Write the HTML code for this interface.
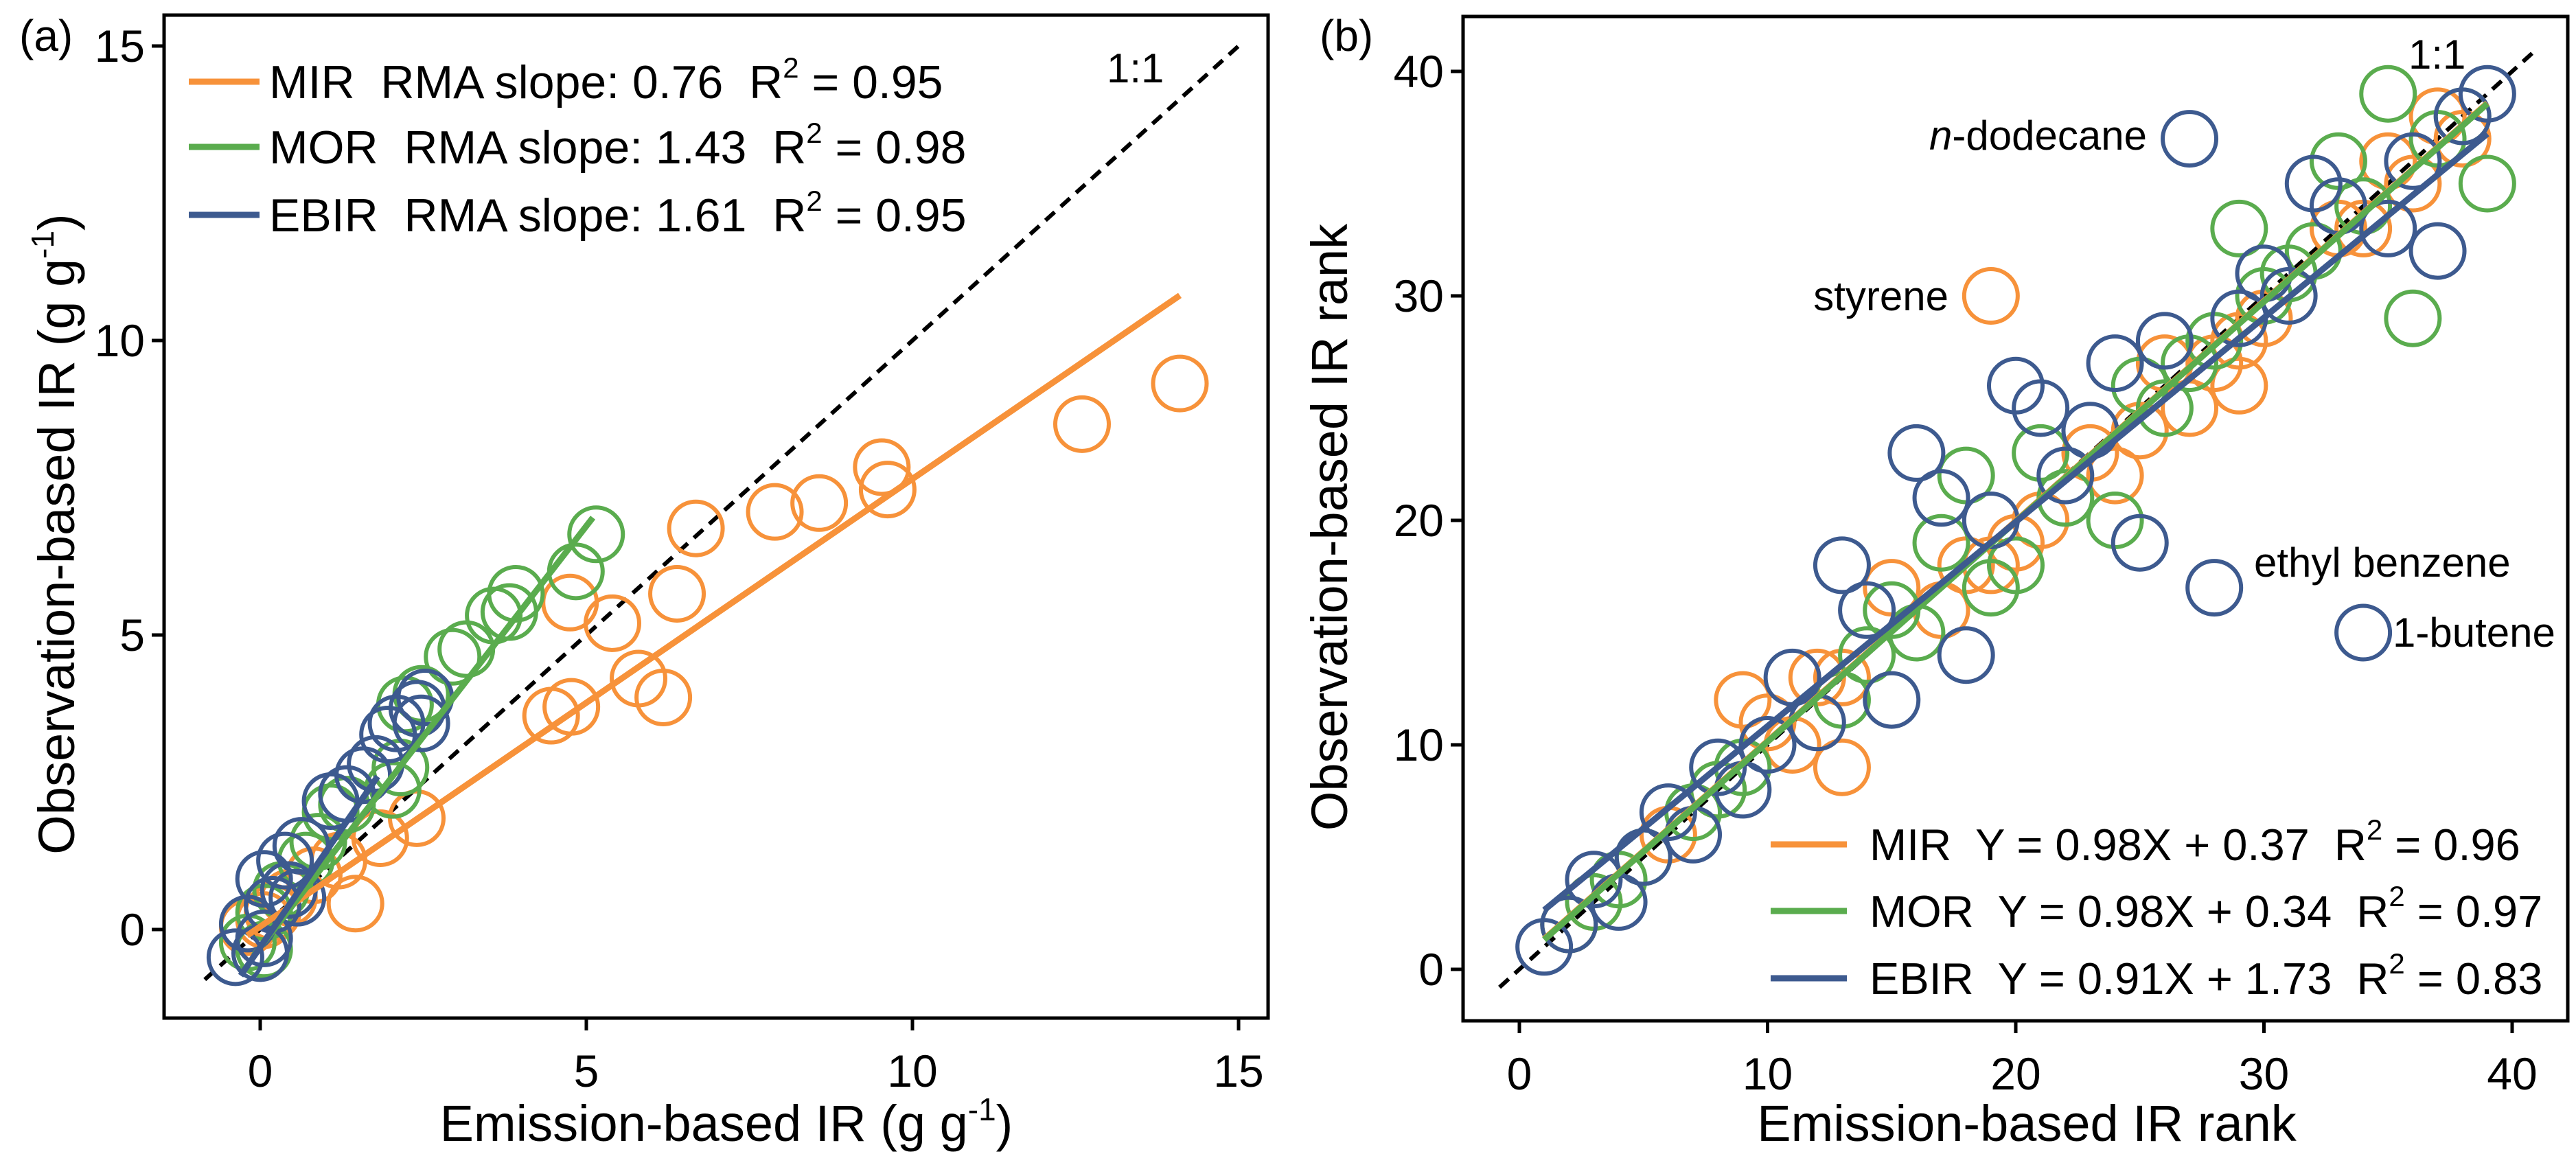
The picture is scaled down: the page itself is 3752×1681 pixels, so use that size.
<!DOCTYPE html>
<html><head><meta charset="utf-8"><style>
body{margin:0;background:#fff}
svg{display:block;font-family:"Liberation Sans",Arial,sans-serif}
</style></head><body>
<svg id="c" width="3752" height="1681" viewBox="0 0 3752 1681"></svg>
<script>
// ---- Panel (a) data ----
const aMirX=[14.1,12.6,9.53,9.62,8.57,7.89,6.68,6.39,4.75,5.4,5.8,6.18,4.46,4.77,2.4,1.84,1.46,1.2,0.82,0.44,0.06,-0.19,0.19];
const aMirY=[9.27,8.58,7.85,7.47,7.24,7.09,6.81,5.7,5.55,5.2,4.26,3.94,3.63,3.78,1.89,1.55,0.44,1.17,0.92,0.54,0.16,0.04,0.29];
const aMorX=[5.15,4.84,3.92,3.82,3.58,3.16,2.95,2.47,2.22,2.15,2.03,1.33,1.08,0.89,0.7,0.32,0.06,-0.19,0.06];
const aMorY=[6.71,6.08,5.7,5.39,5.33,4.76,4.63,4.0,3.82,2.75,2.37,2.12,1.99,1.49,1.17,0.67,0.29,-0.22,-0.34];
const aEbX=[2.53,2.41,2.47,2.09,1.96,1.77,1.58,1.33,1.08,0.63,0.38,0.06,0.44,0.19,-0.19,-0.38,0,0.06,0.57];
const aEbY=[3.94,3.75,3.5,3.5,3.31,2.81,2.62,2.3,2.18,1.42,1.17,0.86,0.67,0.42,0.1,-0.47,-0.4,-0.15,0.54];
const aTicks=[0,5,10,15];
// ---- Panel (b) data ----
const bMirX=[19,37,38,36,35,33,34,30,29,29,28,26,27,25,24,23,21,20,19,17,18,15,13,12,9,10,11,13,8,6,3,2];
const bMirY=[30,38,37,35,36,33,33,29,28,26,27,27,25,24,22,23,20,19,18,16,18,17,13,13,12,11,10,9,8,6,3,2];
const bMorX=[35,39,36,29,33,37,38,34,32,31,30,28,27,25,26,24,22,21,18,17,19,20,16,15,14,13,9,8,7,5,4,3,2];
const bMorY=[39,35,29,33,36,37,38,34,32,31,30,28,27,26,25,20,21,23,22,19,17,18,15,16,14,12,9,8,7,5,4,3,2];
const bEbX=[27,39,38,36,32,33,35,37,31,30,29,26,24,20,21,23,22,16,17,19,25,28,34,13,14,18,15,11,12,10,8,9,6,7,5,3,4,2,1];
const bEbY=[37,39,38,36,35,34,33,32,30,31,29,28,27,26,25,24,22,23,21,20,19,17,15,18,16,14,12,13,11,10,9,8,7,6,5,4,3,2,1];
const bTicks=[0,10,20,30,40];

const NS="http://www.w3.org/2000/svg";
const svg=document.getElementById('c');
function mk(tag,attrs,parent){const e=document.createElementNS(NS,tag);for(const k in attrs)e.setAttribute(k,attrs[k]);(parent||svg).appendChild(e);return e;}
const OR="#f7923a",GR="#5aac4e",BL="#3d5a8f";

function panel(P){
  const g=mk('g',{});
  
  
  const sx=v=>P.x0+(v-P.d0)*P.kx, sy=v=>P.y0-(v-P.d0)*P.ky;
  const fr=mk('rect',{x:P.L,y:P.T,width:P.R-P.L,height:P.B-P.T,fill:'none',stroke:'#000','stroke-width':5},g);
  
  P.ticks.forEach(t=>{
    const xt=mk('line',{x1:sx(t),x2:sx(t),y1:P.B,y2:P.B+18,stroke:'#000','stroke-width':5},g);
    
    const xl=mk('text',{x:sx(t),y:P.B+100,'font-size':66,'text-anchor':'middle'},g);xl.textContent=t;
    
    const yt=mk('line',{x1:P.L-18,x2:P.L,y1:sy(t),y2:sy(t),stroke:'#000','stroke-width':5},g);
    
    const yl=mk('text',{x:P.L-28,y:sy(t)+23,'font-size':66,'text-anchor':'end'},g);yl.textContent=t;
    
  });
  const dl=mk('line',{x1:sx(P.dash[0]),y1:sy(P.dash[0]),x2:sx(P.dash[1]),y2:sy(P.dash[1]),stroke:'#000','stroke-width':6,'stroke-dasharray':'18,12'},g);
  
  const series=[[P.mx,P.my,OR,'mir'],[P.gx,P.gy,GR,'mor'],[P.ex,P.ey,BL,'ebir']];
  series.forEach(([xs,ys,c,n])=>{
    xs.forEach((v,i)=>{
      const ci=mk('circle',{cx:sx(v),cy:sy(ys[i]),r:39,fill:'none',stroke:c,'stroke-width':6},g);
      
    });
  });
  P.fits.forEach(([a,b,x1,x2,c,n])=>{
    const l=mk('line',{x1:sx(x1),y1:sy(a*x1+b),x2:sx(x2),y2:sy(a*x2+b),stroke:c,'stroke-width':9},g);
    
  });
  return g;
}
function txt(x,y,s,size,anchor,name){const t=mk('text',{x:x,y:y,'font-size':size,'text-anchor':anchor||'start'});t.innerHTML=s;
  return t;}

panel({name:'panel-a',L:239,R:1847,T:22,B:1483,x0:379,y0:1354,d0:0,kx:95,ky:85.8,ticks:aTicks,dash:[-0.85,15],
  mx:aMirX,my:aMirY,gx:aMorX,gy:aMorY,ex:aEbX,ey:aEbY,
  fits:[[0.76,0.05,-0.2,14.1,OR,'mir'],[1.43,-0.3,-0.1,5.1,GR,'mor'],[1.61,-0.3,-0.3,1.8,BL,'ebir']]});
panel({name:'panel-b',L:2131,R:3740,T:24,B:1487,x0:2213,y0:1412,d0:0,kx:36.15,ky:32.7,ticks:bTicks,dash:[-0.8,41],
  mx:bMirX,my:bMirY,gx:bMorX,gy:bMorY,ex:bEbX,ey:bEbY,
  fits:[[0.98,0.37,1,39,OR,'mir'],[0.98,0.34,1,39,GR,'mor'],[0.91,1.73,1,39,BL,'ebir']]});

const sup='<tspan dy="-30" font-size="42">2</tspan><tspan dy="30">';
[[119,OR,'MIR&#160; RMA slope: 0.76&#160; R'+sup+' = 0.95</tspan>','legend-mir'],
 [214,GR,'MOR&#160; RMA slope: 1.43&#160; R'+sup+' = 0.98</tspan>','legend-mor'],
 [313,BL,'EBIR&#160; RMA slope: 1.61&#160; R'+sup+' = 0.95</tspan>','legend-ebir']].forEach(([y,c,s,n])=>{
  const l=mk('line',{x1:275,x2:378,y1:y,y2:y,stroke:c,'stroke-width':9});
  
  txt(392,y+24,s,68,'start',n);
});
[[1230,OR,'MIR&#160; Y = 0.98X + 0.37&#160; R'+sup+' = 0.96</tspan>','legend-b-mir'],
 [1327,GR,'MOR&#160; Y = 0.98X + 0.34&#160; R'+sup+' = 0.97</tspan>','legend-b-mor'],
 [1425,BL,'EBIR&#160; Y = 0.91X + 1.73&#160; R'+sup+' = 0.83</tspan>','legend-b-ebir']].forEach(([y,c,s,n])=>{
  const l=mk('line',{x1:2579,x2:2690,y1:y,y2:y,stroke:c,'stroke-width':9});
  
  txt(2723,y+23,s,65,'start',n);
});
txt(28,74,'(a)',64,'start','panel-a-label');
txt(1922,74,'(b)',64,'start','panel-b-label');
txt(1612,120,'1:1',60,'start','one-to-one-label-a');
txt(3508,100,'1:1',60,'start','one-to-one-label-b');
txt(3127,218,'<tspan font-style="italic">n</tspan>-dodecane',60,'end','label-n-dodecane');
txt(2838,452,'styrene',60,'end','label-styrene');
txt(3283,840,'ethyl benzene',60,'start','label-ethyl-benzene');
txt(3485,942,'1-butene',60,'start','label-1-butene');
txt(1058,1662,'Emission-based IR (g g<tspan dy="-30" font-size="46">-1</tspan><tspan dy="30">)</tspan>',74,'middle','x-axis-title-a');
txt(2952,1662,'Emission-based IR rank',74,'middle','x-axis-title-b');
const ya=txt(0,0,'Observation-based IR (g g<tspan dy="-30" font-size="46">-1</tspan><tspan dy="30">)</tspan>',74,'middle','y-axis-title-a');
ya.setAttribute('transform','translate(108,778) rotate(-90)');
const yb=txt(0,0,'Observation-based IR rank',74,'middle','y-axis-title-b');
yb.setAttribute('transform','translate(1962,768) rotate(-90)');
</script>
</body></html>
